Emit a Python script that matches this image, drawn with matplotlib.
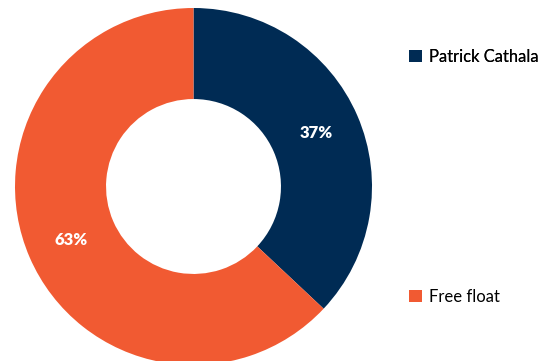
import matplotlib
matplotlib.use("Agg")
import matplotlib.pyplot as plt

labels = ["Patrick Cathala", "Free float"]
shares = [37, 63]
colors = ["#002B54", "#F15A32"]

plt.rcParams["font.family"] = ["Lato", "DejaVu Sans"]

W, H = 545, 361
fig = plt.figure(figsize=(W / 100, H / 100), dpi=100)

# donut centre ~ (193.5, 186.5) px, outer radius ~178.5 px
cx, cy, r = 193.5, 186.5, 178.5
ax = fig.add_axes([(cx - r) / W, (H - cy - r) / H, 2 * r / W, 2 * r / H])

wedges, texts, autotexts = ax.pie(
    shares,
    colors=colors,
    startangle=90,
    counterclock=False,
    radius=1,
    autopct="%d%%",
    pctdistance=0.75,
    wedgeprops=dict(width=0.51, edgecolor="none"),
    textprops=dict(color="white", fontsize=12, fontweight="heavy"),
)
ax.set_xlim(-1, 1)
ax.set_ylim(-1, 1)
ax.set_aspect("equal")
ax.axis("off")

leg1 = fig.legend([wedges[0]], [labels[0]], loc="center left",
                  bbox_to_anchor=(409 / W, 1 - 57 / H), frameon=False,
                  fontsize=12, handlelength=0.75, handleheight=0.75,
                  handletextpad=0.45, borderaxespad=0, borderpad=0)
fig.add_artist(leg1)
fig.legend([wedges[1]], [labels[1]], loc="center left",
           bbox_to_anchor=(409 / W, 1 - 297 / H), frameon=False,
           fontsize=12, handlelength=0.75, handleheight=0.75,
           handletextpad=0.45, borderaxespad=0, borderpad=0)

fig.savefig("out.png", dpi=100)
